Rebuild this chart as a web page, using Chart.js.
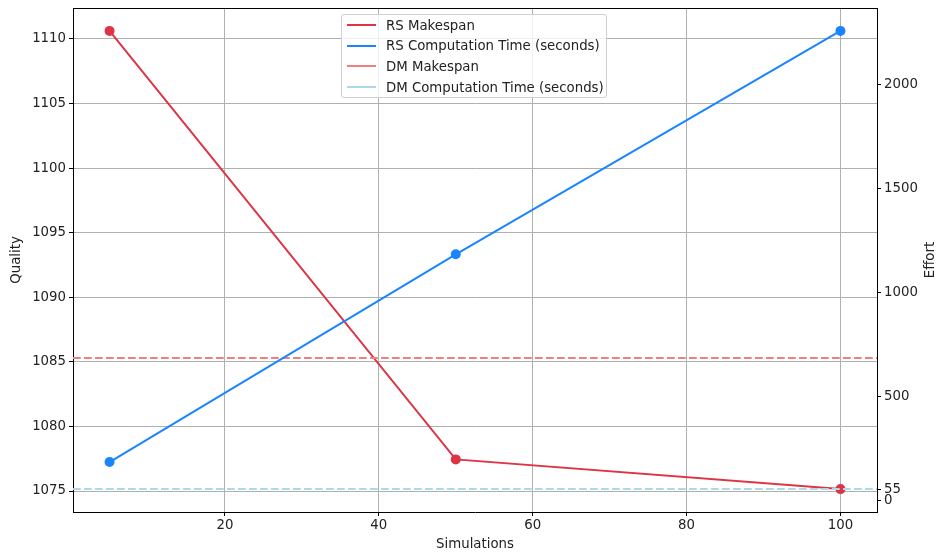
<!DOCTYPE html>
<html>
<head>
<meta charset="utf-8">
<script src="https://cdn.jsdelivr.net/npm/chart.js@4.4.0/dist/chart.umd.min.js"></script>
<style>
    html, body { margin: 0; padding: 0; background: #fff; }
    #wrap { position: relative; width: 941px; height: 558px; }
    #legend {
        position: absolute; left: 341px; top: 14px; width: 264px; height: 82px;
        border: 1px solid #d0d0d0; border-radius: 3px; background: rgba(255,255,255,0.8);
        font-family: "DejaVu Sans", sans-serif; font-size: 13.3px; color: #222;
    }
    .item { position: absolute; left: 0; height: 20px; display: flex; align-items: center; }
    .swatch { width: 29px; height: 2px; margin-left: 5px; margin-right: 10px; }
</style>
</head>
<body>
<div id="wrap">
    <canvas id="chart" width="941" height="558"></canvas>
    <div id="legend"></div>
</div>
<script>
// Data
const simulations = [5, 50, 100];
const rsMakespan = [1110.62, 1077.45, 1075.15];
const rsCompTime = [185, 1185, 2260];
const dmMakespan = 1085.3;
const dmCompTime = 55;

const xTicks = [20, 40, 60, 80, 100];
const qualityTicks = [1075, 1080, 1085, 1090, 1095, 1100, 1105, 1110];
const effortTicks = [0, 55, 500, 1000, 1500, 2000];

// matplotlib style 5% margins
function limits(values) {
    const lo = Math.min(...values), hi = Math.max(...values);
    const m = (hi - lo) * 0.05;
    return [lo - m, hi + m];
}
const [xMin, xMax] = limits(simulations);
const [qMin, qMax] = limits([...rsMakespan, dmMakespan]);
const [eMin, eMax] = limits([...rsCompTime, dmCompTime]);

const FONT = { family: 'DejaVu Sans', size: 13.3 };
const TEXT = '#222';
const GRID = '#b0b0b0';

function setTicks(list) {
    return scale => { scale.ticks = list.map(v => ({ value: v })); };
}
const plain = v => String(v);
function fixSize(w, h) {
    return s => {
        if (w) s.width = w;
        if (h) s.height = h;
        s.paddingTop = 0; s.paddingBottom = 0;
        s.paddingLeft = 0; s.paddingRight = 0;
    };
}

// Top frame line + right title
const framePlugin = {
    id: 'frame',
    afterDraw(chart) {
        const { ctx, chartArea: a } = chart;
        ctx.save();
        ctx.strokeStyle = '#000';
        ctx.lineWidth = 1;
        ctx.beginPath();
        ctx.moveTo(a.left, a.top + 0.5);
        ctx.lineTo(a.right, a.top + 0.5);
        ctx.stroke();
        ctx.translate(931, (a.top + a.bottom) / 2);
        ctx.rotate(-Math.PI / 2);
        ctx.fillStyle = TEXT;
        ctx.font = FONT.size + 'px "DejaVu Sans"';
        ctx.textAlign = 'center';
        ctx.textBaseline = 'middle';
        ctx.fillText('Effort', 0, 0);
        ctx.restore();
    }
};

const chart = new Chart(document.getElementById('chart'), {
    type: 'line',
    data: {
        datasets: [
            {
                label: 'RS Makespan',
                data: simulations.map((x, i) => ({ x, y: rsMakespan[i] })),
                borderColor: '#dc3545',
                backgroundColor: '#dc3545',
                borderWidth: 2,
                pointRadius: 4,
                yAxisID: 'y',
                order: 4
            },
            {
                label: 'RS Computation Time (seconds)',
                data: simulations.map((x, i) => ({ x, y: rsCompTime[i] })),
                borderColor: '#1a85ff',
                backgroundColor: '#1a85ff',
                borderWidth: 2,
                pointRadius: 4,
                yAxisID: 'y1',
                order: 2
            },
            {
                label: 'DM Makespan',
                data: [{ x: xMin, y: dmMakespan }, { x: xMax, y: dmMakespan }],
                borderColor: '#f08080',
                borderWidth: 2,
                borderDash: [7.7, 3.3],
                pointRadius: 0,
                yAxisID: 'y',
                order: 3
            },
            {
                label: 'DM Computation Time (seconds)',
                data: [{ x: xMin, y: dmCompTime }, { x: xMax, y: dmCompTime }],
                borderColor: '#add8e6',
                borderWidth: 2,
                borderDash: [7.7, 3.3],
                pointRadius: 0,
                yAxisID: 'y1',
                order: 1
            }
        ]
    },
    options: {
        responsive: false,
        animation: false,
        layout: { padding: { top: 8, left: 0, right: 0, bottom: 0 } },
        plugins: { legend: { display: false }, tooltip: { enabled: false } },
        scales: {
            x: {
                type: 'linear',
                min: xMin, max: xMax,
                afterBuildTicks: setTicks(xTicks),
                afterFit: fixSize(0, 46),
                ticks: { color: TEXT, font: FONT, padding: 2, maxRotation: 0, callback: plain },
                grid: { color: GRID, tickColor: '#000', tickLength: 4 },
                border: { color: '#000' },
                title: { display: true, text: 'Simulations', color: TEXT, font: FONT, padding: { top: 0, bottom: 5 } }
            },
            y: {
                position: 'left',
                min: qMin, max: qMax,
                afterBuildTicks: setTicks(qualityTicks),
                afterFit: fixSize(73, 0),
                ticks: { color: TEXT, font: FONT, padding: 3, callback: plain },
                grid: { color: GRID, tickColor: '#000', tickLength: 4 },
                border: { color: '#000' },
                title: { display: true, text: 'Quality', color: TEXT, font: FONT, padding: { top: 9, bottom: 0 } }
            },
            y1: {
                position: 'right',
                min: eMin, max: eMax,
                afterBuildTicks: setTicks(effortTicks),
                afterFit: fixSize(64, 0),
                ticks: { color: TEXT, font: FONT, padding: 3, autoSkip: false, callback: plain },
                grid: { drawOnChartArea: false, tickColor: '#000', tickLength: 4 },
                border: { color: '#000' }
            }
        }
    },
    plugins: [framePlugin]
});

// Legend from datasets (all solid handles)
const legend = document.getElementById('legend');
chart.data.datasets.forEach((ds, i) => {
    const item = document.createElement('div');
    item.className = 'item';
    item.style.top = (i * 20.7) + 'px';
    const sw = document.createElement('span');
    sw.className = 'swatch';
    sw.style.background = ds.borderColor;
    const label = document.createElement('span');
    label.textContent = ds.label;
    item.appendChild(sw);
    item.appendChild(label);
    legend.appendChild(item);
});
</script>
</body>
</html>
